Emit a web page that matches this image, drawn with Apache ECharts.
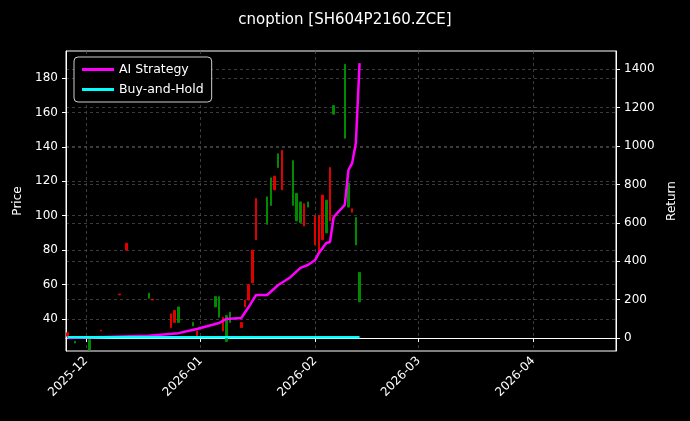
<!DOCTYPE html>
<html><head><meta charset="utf-8">
<script src="https://cdn.jsdelivr.net/npm/echarts@6/dist/echarts.min.js"></script>
<style>html,body{margin:0;background:#000}#c{width:690px;height:421px}</style>
</head><body><div id="c"></div>
<script>
// candles: [date, open, close, low, high]
const candleDates = ['2025-11-26','2025-11-28','2025-12-02','2025-12-05','2025-12-10','2025-12-12','2025-12-18','2025-12-19','2025-12-24','2025-12-25','2025-12-26','2025-12-30','2025-12-31','2026-01-05','2026-01-06','2026-01-07','2026-01-08','2026-01-09','2026-01-12','2026-01-13','2026-01-14','2026-01-15','2026-01-16','2026-01-19','2026-01-20','2026-01-21','2026-01-22','2026-01-23','2026-01-26','2026-01-27','2026-01-28','2026-01-29','2026-01-30','2026-02-01','2026-02-02','2026-02-03','2026-02-04','2026-02-05','2026-02-06','2026-02-09','2026-02-10','2026-02-11','2026-02-12','2026-02-13'];
const candleOpen  = [30,27,28,33,54,80,55,51,35,38,47,38,30,53,53,33,42,44,35,47,51,61,86,111,122,115,136,115,132,113,108,94,108,83,79,86,109,97,164,188,119,102,99,67];
const candleClose = [32,26,22,33.5,54.5,84,52,51.5,43,45,38,36,33,47,41,41,27,38,38,51,60,80,110,95,106,123,128,138,106,97,96,107,105,100,100,112,90,128,159,145,105,104,83,50];
// AI strategy return line
const stratDates = ['2025-11-26','2025-12-01','2025-12-18','2025-12-26','2025-12-31','2026-01-06','2026-01-08','2026-01-12','2026-01-14','2026-01-16','2026-01-19','2026-01-22','2026-01-25','2026-01-28','2026-01-30','2026-02-01','2026-02-02','2026-02-04','2026-02-05','2026-02-06','2026-02-09','2026-02-10','2026-02-11','2026-02-12','2026-02-13'];
const stratValues = [0,2,12,25,47,78,99,104,161,224,224,276,312,365,380,406,443,495,500,630,693,875,911,1016,1432];
const holdDates = ['2025-11-26','2026-02-13'];
const holdValues = [3,3];
const monthTicks = ['2025-12-01','2026-01-01','2026-02-01','2026-03-01','2026-04-01'];
const priceTicks = [40,60,80,100,120,140,160,180];
const returnTicks = [0,200,400,600,800,1000,1200,1400];

const t = s => Date.UTC(+s.slice(0,4), +s.slice(5,7)-1, +s.slice(8,10));
const candles = candleDates.map((d,i)=>{
  const o=candleOpen[i], c=candleClose[i];
  return [t(d), o, c, Math.min(o,c), Math.max(o,c)];
});
const font = 'DejaVu Sans';
const grid = {lineStyle:{color:'#555',type:[3,3],width:0.7}};
const mt = monthTicks.map(t);
const chart = echarts.init(document.getElementById('c'));
chart.setOption({
  backgroundColor:'#000',
  animation:false,
  textStyle:{fontFamily:font},
  title:{text:'cnoption [SH604P2160.ZCE]',left:'center',top:8,textStyle:{color:'#fff',fontSize:15,fontWeight:'normal',fontFamily:font}},
  grid:{left:66,right:74,top:51,bottom:70,show:true,borderColor:'#fff',borderWidth:1},
  legend:{left:74,top:57,orient:'vertical',itemGap:7,itemWidth:32,itemHeight:3,
    backgroundColor:'#000',borderColor:'#ccc',borderWidth:1,borderRadius:4,padding:[6,8],
    textStyle:{color:'#fff',fontSize:12.5,fontFamily:font},
    data:[{name:'AI Strategy',icon:'rect'},{name:'Buy-and-Hold',icon:'rect'}]},
  xAxis:{type:'value',min:t('2025-11-25')+14*3600e3,max:t('2026-04-23')+9*3600e3,
    axisLine:{lineStyle:{color:'#fff'}},
    axisTick:{customValues:mt,lineStyle:{color:'#fff'},length:4},
    axisLabel:{customValues:mt,rotate:45,color:'#fff',fontSize:12,fontFamily:font,
      formatter:v=>{const d=new Date(v);return d.getUTCFullYear()+'-'+String(d.getUTCMonth()+1).padStart(2,'0');}},
    splitLine:{show:true,customValues:mt,...grid}},
  yAxis:[
    {type:'value',min:21.4,max:195.7,position:'left',name:'Price',nameLocation:'middle',nameGap:40,nameRotate:90,
     nameTextStyle:{color:'#fff',fontSize:12},
     axisLine:{show:true,lineStyle:{color:'#fff'}},
     axisTick:{show:true,customValues:priceTicks,length:4,lineStyle:{color:'#fff'}},
     axisLabel:{customValues:priceTicks,color:'#fff',fontSize:12,formatter:v=>String(v)},
     splitLine:{show:true,customValues:priceTicks,...grid}},
    {type:'value',min:-68,max:1495,position:'right',name:'Return',nameLocation:'middle',nameGap:46,nameRotate:90,
     nameTextStyle:{color:'#fff',fontSize:12},
     axisLine:{show:true,lineStyle:{color:'#fff'}},
     axisTick:{show:true,customValues:returnTicks,length:4,lineStyle:{color:'#fff'}},
     axisLabel:{customValues:returnTicks,color:'#fff',fontSize:12,formatter:v=>String(v)},
     splitLine:{show:true,customValues:returnTicks,...grid}}
  ],
  series:[
    {type:'candlestick',yAxisIndex:0,data:candles,barWidth:2,
     itemStyle:{color:'#e00000',color0:'#008a00',borderColor:'#e00000',borderColor0:'#008a00',borderWidth:1}},
    {name:'AI Strategy',type:'line',yAxisIndex:1,showSymbol:false,lineStyle:{color:'#ff00ff',width:2.5},itemStyle:{color:'#ff00ff'},
     data:stratDates.map((d,i)=>[t(d),stratValues[i]])},
    {name:'Buy-and-Hold',type:'line',yAxisIndex:1,showSymbol:false,lineStyle:{color:'#00ffff',width:2.5},itemStyle:{color:'#00ffff'},
     data:holdDates.map((d,i)=>[t(d),holdValues[i]])}
  ]
});
</script></body></html>
